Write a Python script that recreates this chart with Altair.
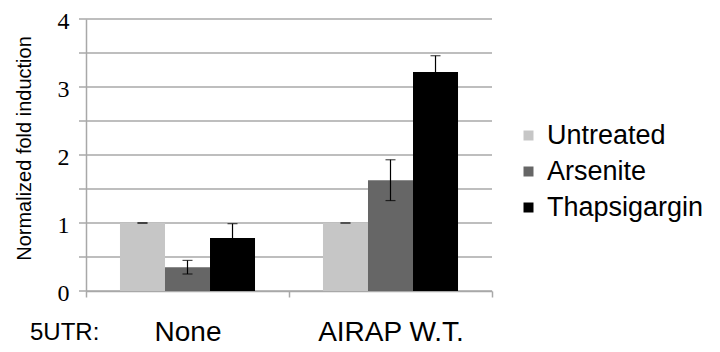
import altair as alt
import pandas as pd

groups = ["None", "AIRAP W.T."]
treatments = ["Untreated", "Arsenite", "Thapsigargin"]
values_none = [1.0, 0.35, 0.78]
values_airap = [1.0, 1.63, 3.22]
err_none = [0.0, 0.10, 0.21]
err_airap = [0.0, 0.30, 0.24]
colors = ["#c6c6c6", "#666666", "#000000"]
grid_values = [0.0, 0.5, 1.0, 1.5, 2.0, 2.5, 3.0, 3.5, 4.0]
y_labels = [0, 1, 2, 3, 4]

rows = []
for g, vals, errs in [(groups[0], values_none, err_none), (groups[1], values_airap, err_airap)]:
    for t, v, e in zip(treatments, vals, errs):
        rows.append({"group": g, "treatment": t, "value": v, "lo": v - e, "hi": v + e})
df = pd.DataFrame(rows)
grid_df = pd.DataFrame({"gv": grid_values})

x_scale = alt.Scale(paddingInner=0, paddingOuter=0)
x_axis = alt.Axis(title=None, tickBand="extent", labelFont="Liberation Sans",
                  labelFontSize=28, labelColor="#000000", labelPadding=43,
                  labelAngle=0, tickColor="#a8a8a8", tickSize=6, tickWidth=1.5,
                  domainColor="#a8a8a8", domainWidth=1.5,
                  labelBaseline="alphabetic", grid=False)
x_enc = alt.X("group:N", sort=groups, scale=x_scale, axis=x_axis)
xo_enc = alt.XOffset("treatment:N", sort=treatments,
                     scale=alt.Scale(paddingInner=0, paddingOuter=0.755))
y_scale = alt.Scale(domain=[0, 4], nice=False)
TITLE = "Normalized fold induction"
y_axis = alt.Axis(values=y_labels, title=TITLE, format="d",
                  labelFont="Liberation Serif", labelFontSize=24,
                  labelColor="#000000", labelPadding=17, labelOffset=2, ticks=False,
                  grid=False, domainColor="#a8a8a8", domainWidth=1.5,
                  titleFont="Liberation Sans",
                  titleFontSize=20, titleFontWeight="normal",
                  titleColor="#000000", titleAngle=-90,
                  titleAlign="center", titleBaseline="middle",
                  titleX=-62, titleY=129, labelOverlap=False)

grid = alt.Chart(grid_df).mark_rule(color="#a8a8a8", strokeWidth=1.5).encode(
    y=alt.Y("gv:Q", scale=y_scale, axis=y_axis, title=TITLE),
    x=alt.value(-7), x2=alt.value(406))

bars = alt.Chart(df).mark_bar().encode(
    x=x_enc,
    xOffset=xo_enc,
    y=alt.Y("value:Q", scale=y_scale, axis=y_axis, title=TITLE, stack=None),
    color=alt.Color("treatment:N", sort=treatments,
                    scale=alt.Scale(domain=treatments, range=colors),
                    legend=alt.Legend(title=None, orient="none", legendX=429, legendY=103,
                                      symbolType="square", symbolSize=100,
                                      symbolStrokeWidth=0, labelFont="Liberation Sans",
                                      labelFontSize=27, labelColor="#000000",
                                      labelOffset=5, rowPadding=8)),
)

rule = alt.Chart(df).mark_rule(color="#000000", strokeWidth=1.2).encode(
    x=x_enc, xOffset=xo_enc,
    y=alt.Y("lo:Q", scale=y_scale, axis=y_axis, title=TITLE),
    y2="hi:Q")
cap_hi = alt.Chart(df).mark_tick(color="#000000", size=10, thickness=1.2).encode(
    x=x_enc, xOffset=xo_enc,
    y=alt.Y("hi:Q", scale=y_scale, axis=y_axis, title=TITLE))
cap_lo = alt.Chart(df).mark_tick(color="#000000", size=10, thickness=1.2).encode(
    x=x_enc, xOffset=xo_enc,
    y=alt.Y("lo:Q", scale=y_scale, axis=y_axis, title=TITLE))

label = alt.Chart(pd.DataFrame({"t": ["5UTR:"]})).mark_text(
    font="Liberation Sans", fontSize=24, color="#000000", align="left",
    baseline="alphabetic"
).encode(text="t:N", x=alt.value(-56), y=alt.value(321))

chart = alt.layer(grid, bars, rule, cap_hi, cap_lo, label).properties(
    width=406, height=272,
    background="#ffffff",
    autosize=alt.AutoSizeParams(type="none"),
    padding={"left": 78, "top": 11, "right": 220, "bottom": 61},
).configure_view(stroke=None)

chart.save("out.html", embed_options={"renderer": "svg", "actions": False})
